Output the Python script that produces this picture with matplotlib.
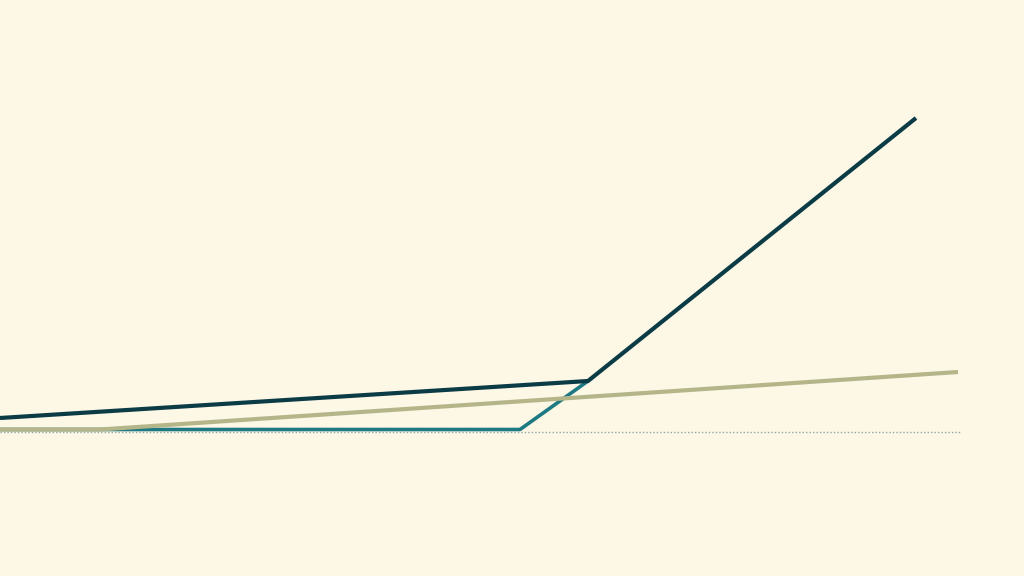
import numpy as np
import matplotlib.pyplot as plt

# series values (x in arbitrary time units, y in arbitrary value units)
x_dark = [0, 58.8, 91.6]
y_dark = [14, 51, 314]

x_teal = [0, 52.0, 58.8]
y_teal = [2.5, 2.5, 51]

x_khaki = [0, 10.0, 95.8]
y_khaki = [2.5, 2.5, 60]

bg = '#fdf7e6'

fig = plt.figure(figsize=(10.24, 5.76), dpi=100, facecolor=bg)
ax = fig.add_axes([0, 0, 1, 1], facecolor=bg)

# dotted baseline
ax.plot([0, 96.0], [0, 0], color='#8fa89f', linewidth=1.0, linestyle=(0, (1, 1.5)), zorder=1)

# teal under khaki, dark on top
ax.plot(x_teal, y_teal, color='#1e7a82', linewidth=2.6, solid_capstyle='butt', zorder=2)
ax.plot(x_khaki, y_khaki, color='#b4b68a', linewidth=3.0, solid_capstyle='butt', zorder=3)
ax.plot(x_dark, y_dark, color='#0b3c46', linewidth=3.0, solid_capstyle='butt', zorder=4)

ax.set_xlim(0, 102.4)
ax.set_ylim(-144, 432)
ax.axis('off')

fig.savefig('out.png', dpi=100, facecolor=bg)
